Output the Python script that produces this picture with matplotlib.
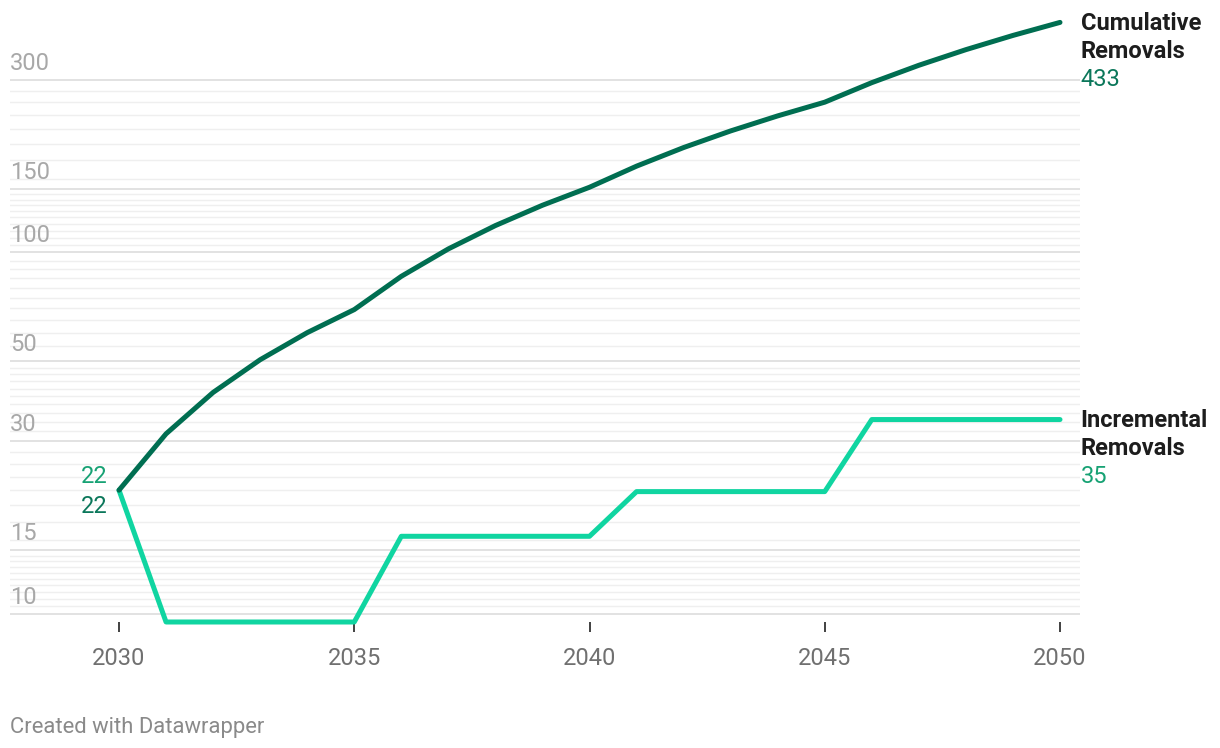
import matplotlib
matplotlib.use("Agg")
import matplotlib.pyplot as plt
from matplotlib.ticker import NullFormatter, FixedLocator

plt.rcParams['font.family'] = ['Roboto', 'DejaVu Sans']

# ---- data ----
years = list(range(2030, 2051))
cumulative = [22, 31.5, 41, 50.5, 60, 69.5, 85.9, 102.3, 118.7, 135.1, 151.5,
              173.3, 195.1, 216.9, 238.7, 260.5, 295, 329.5, 364, 398.5, 433]
incremental = [22, 9.5, 9.5, 9.5, 9.5, 9.5, 16.4, 16.4, 16.4, 16.4, 16.4,
               21.8, 21.8, 21.8, 21.8, 21.8, 34.5, 34.5, 34.5, 34.5, 34.5]
series_names = ["Cumulative\nRemovals", "Incremental\nRemovals"]
end_labels = ["433", "35"]
start_labels = ["22", "22"]

y_major = [10, 15, 30, 50, 100, 150, 300]
y_major_labels = ["10", "15", "30", "50", "100", "150", "300"]
y_minor = ([10.5, 11, 11.5, 12, 12.5, 13, 13.5, 14, 14.5]
           + [16, 18, 20, 22, 24, 26, 28]
           + [32, 34, 36, 38, 40, 42, 44, 46, 48]
           + [55, 60, 65, 70, 75, 80, 85, 90, 95]
           + [105, 110, 115, 120, 125, 130, 135, 140, 145]
           + [160, 180, 200, 220, 240, 260, 280])
x_ticks = [2030, 2035, 2040, 2045, 2050]
x_tick_labels = ["2030", "2035", "2040", "2045", "2050"]

# ---- style ----
c_cum = "#006e51"
c_inc = "#10d5a1"
c_cum_txt = "#0b775a"
c_inc_txt = "#17a274"
c_ylab = "#a8a8a8"
c_xlab = "#707070"
fs = 17

W, H = 1220, 748
fig = plt.figure(figsize=(W / 100, H / 100), dpi=100)
ax_left, ax_right = 10, 1080
ax_top, ax_bot = 22.4, 622
ax = fig.add_axes([ax_left / W, 1 - ax_bot / H, (ax_right - ax_left) / W, (ax_bot - ax_top) / H])

ax.set_yscale('log')
ax.set_ylim(9.5, 433)
ppy = 47.05
ax.set_xlim(2030 - 109 / ppy, 2050 + 20 / ppy)

for s in ax.spines.values():
    s.set_visible(False)

ax.yaxis.set_major_locator(FixedLocator(y_major))
ax.yaxis.set_minor_locator(FixedLocator(y_minor))
ax.yaxis.set_major_formatter(NullFormatter())
ax.yaxis.set_minor_formatter(NullFormatter())
ax.tick_params(axis='y', which='both', length=0)
ax.grid(axis='y', which='major', color='#e2e2e2', lw=1.4)
ax.grid(axis='y', which='minor', color='#efefef', lw=1.0)
ax.set_axisbelow(True)

ax.set_xticks(x_ticks, labels=x_tick_labels)
ax.tick_params(axis='x', length=7.2, width=1.3, color='#333333', pad=10.5,
               labelsize=fs, labelcolor=c_xlab)

for v, lab in zip(y_major, y_major_labels):
    ax.annotate(lab, xy=(0, v), xycoords=('axes fraction', 'data'),
                xytext=(0, 7.2), textcoords='offset points',
                ha='left', va='baseline', fontsize=fs, color=c_ylab)

ax.plot(years, incremental, color=c_inc, lw=3.6, solid_capstyle='round',
        solid_joinstyle='round', clip_on=False, zorder=3)
ax.plot(years, cumulative, color=c_cum, lw=3.6, solid_capstyle='round',
        solid_joinstyle='round', clip_on=False, zorder=4)

# end labels
px = 0.72
for ys, name, val, col in [(cumulative, series_names[0], end_labels[0], c_cum_txt),
                           (incremental, series_names[1], end_labels[1], c_inc_txt)]:
    first, second = name.split("\n")
    for i, (t, fc, fw) in enumerate([(first, '#1d1d1d', 'bold'),
                                     (second, '#1d1d1d', 'bold'),
                                     (val, col, 'normal')]):
        ax.annotate(t, xy=(years[-1], ys[-1]), xytext=(20.5 * px, -(7.5 + 28 * i) * px),
                    textcoords='offset points', ha='left', va='baseline',
                    fontsize=fs, color=fc, fontweight=fw, annotation_clip=False)

# start labels
ax.annotate(start_labels[1], xy=(years[0], incremental[0]), xytext=(-11 * px, 6.9 * px),
            textcoords='offset points', ha='right', va='baseline',
            fontsize=fs, color=c_inc_txt)
ax.annotate(start_labels[0], xy=(years[0], cumulative[0]), xytext=(-11 * px, -23.1 * px),
            textcoords='offset points', ha='right', va='baseline',
            fontsize=fs, color=c_cum_txt)

fig.text(10 / W, (H - 732.7) / H, "Created with Datawrapper", ha='left', va='baseline',
         fontsize=15.8, color='#8a8a8a')

fig.savefig("out.png", dpi=100)
